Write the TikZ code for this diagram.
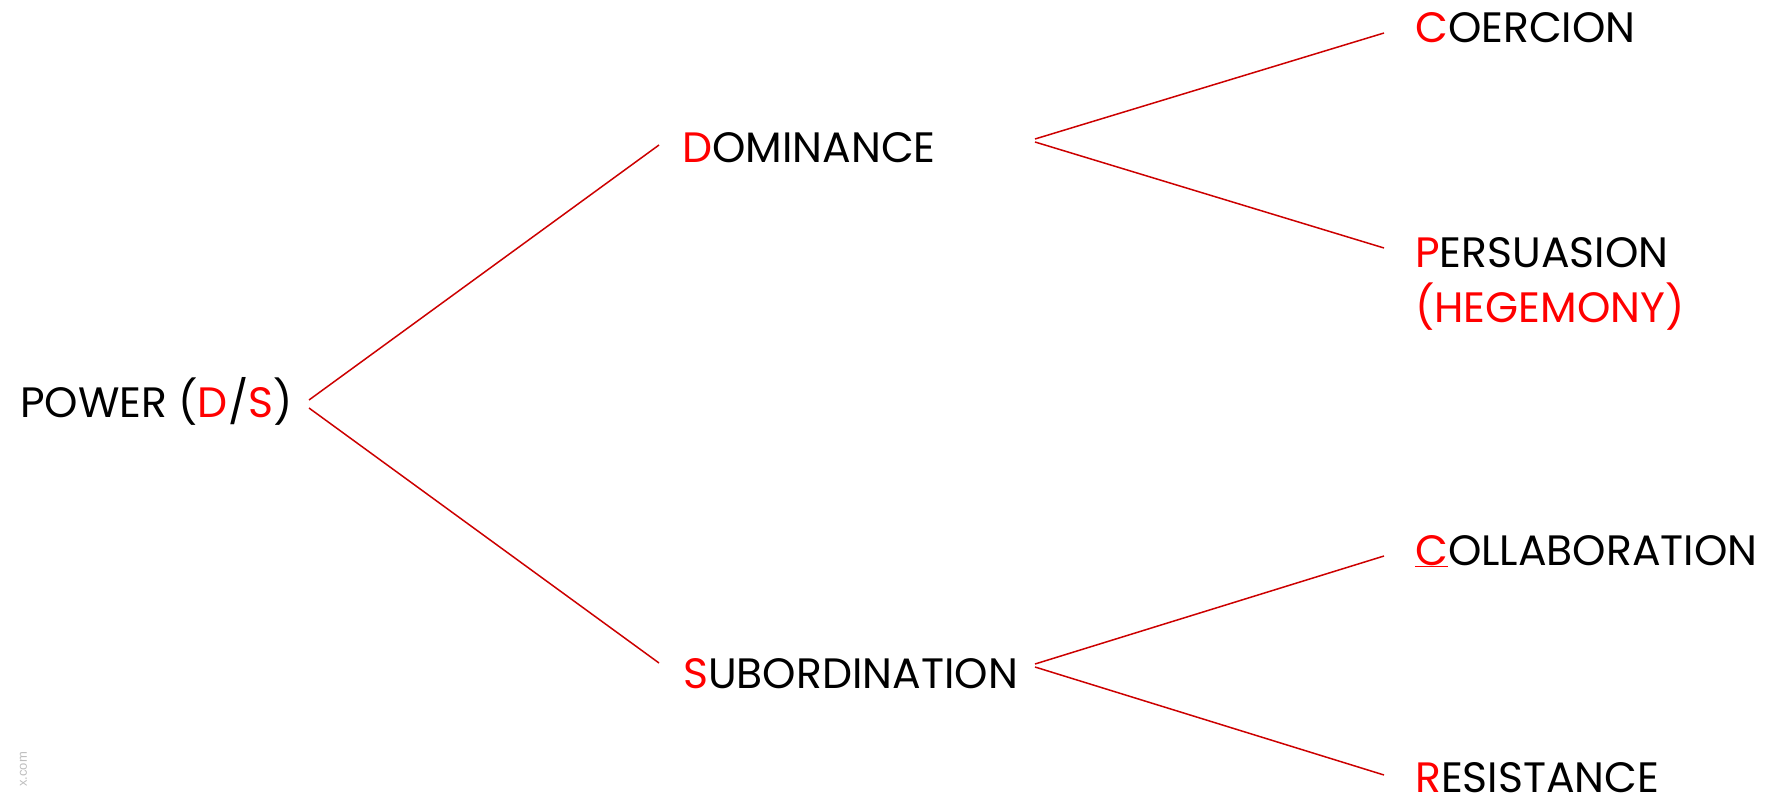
\documentclass[tikz,border=0pt]{standalone}
\usepackage{fontspec}
\setmainfont{Poppins}
\newfontfamily\markfont{Liberation Sans}
\definecolor{hilite}{RGB}{255,0,0}
\definecolor{branch}{RGB}{204,0,0}
\definecolor{markgray}{RGB}{190,190,190}
\tikzset{
  term/.style={anchor=base west, inner sep=0pt, font=\fontsize{42.5}{50}\selectfont, text=black},
  branchline/.style={draw=branch, line width=1.5pt},
}
\newcommand{\hl}[1]{\textcolor{hilite}{#1}}
\begin{document}
\begin{tikzpicture}[x=1pt,y=-1pt]
\useasboundingbox (0,0) rectangle (1776,797);
% terms of the tree
\node[term] (power) at (20,417) {POWER (\hl{D}/\hl{S})};
\node[term] (dom) at (682,162) {\hl{D}OMINANCE};
\node[term] (sub) at (683,688) {\hl{S}UBORDINATION};
\node[term] (coe) at (1415,43) {\hl{C}OERCION};
\node[term] (per) at (1415,267) {\hl{P}ERSUASION};
\node[term, text=hilite] (heg) at (1415,322) {(HEGEMONY)};
\node[term] (col) at (1415,565) {\hl{\underline{C}}OLLABORATION};
\node[term] (res) at (1415,792) {\hl{R}ESISTANCE};
% branch points
\coordinate (powerA) at (309,400);
\coordinate (powerB) at (309,408);
\coordinate (domIn) at (659,145);
\coordinate (subIn) at (659,663);
\coordinate (domA) at (1035,139);
\coordinate (domB) at (1035,142);
\coordinate (subA) at (1035,664);
\coordinate (subB) at (1035,667);
\coordinate (coeIn) at (1384,33);
\coordinate (perIn) at (1384,248);
\coordinate (colIn) at (1384,556);
\coordinate (resIn) at (1384,775);
% branches
\draw[branchline] (powerA) -- (domIn);
\draw[branchline] (powerB) -- (subIn);
\draw[branchline] (domA) -- (coeIn);
\draw[branchline] (domB) -- (perIn);
\draw[branchline] (subA) -- (colIn);
\draw[branchline] (subB) -- (resIn);
% source mark
\node[anchor=base west, inner sep=0pt, rotate=90, text=markgray, font=\markfont\fontsize{13}{15}\selectfont] (mark) at (27,787) {x.com};
\end{tikzpicture}
\end{document}
